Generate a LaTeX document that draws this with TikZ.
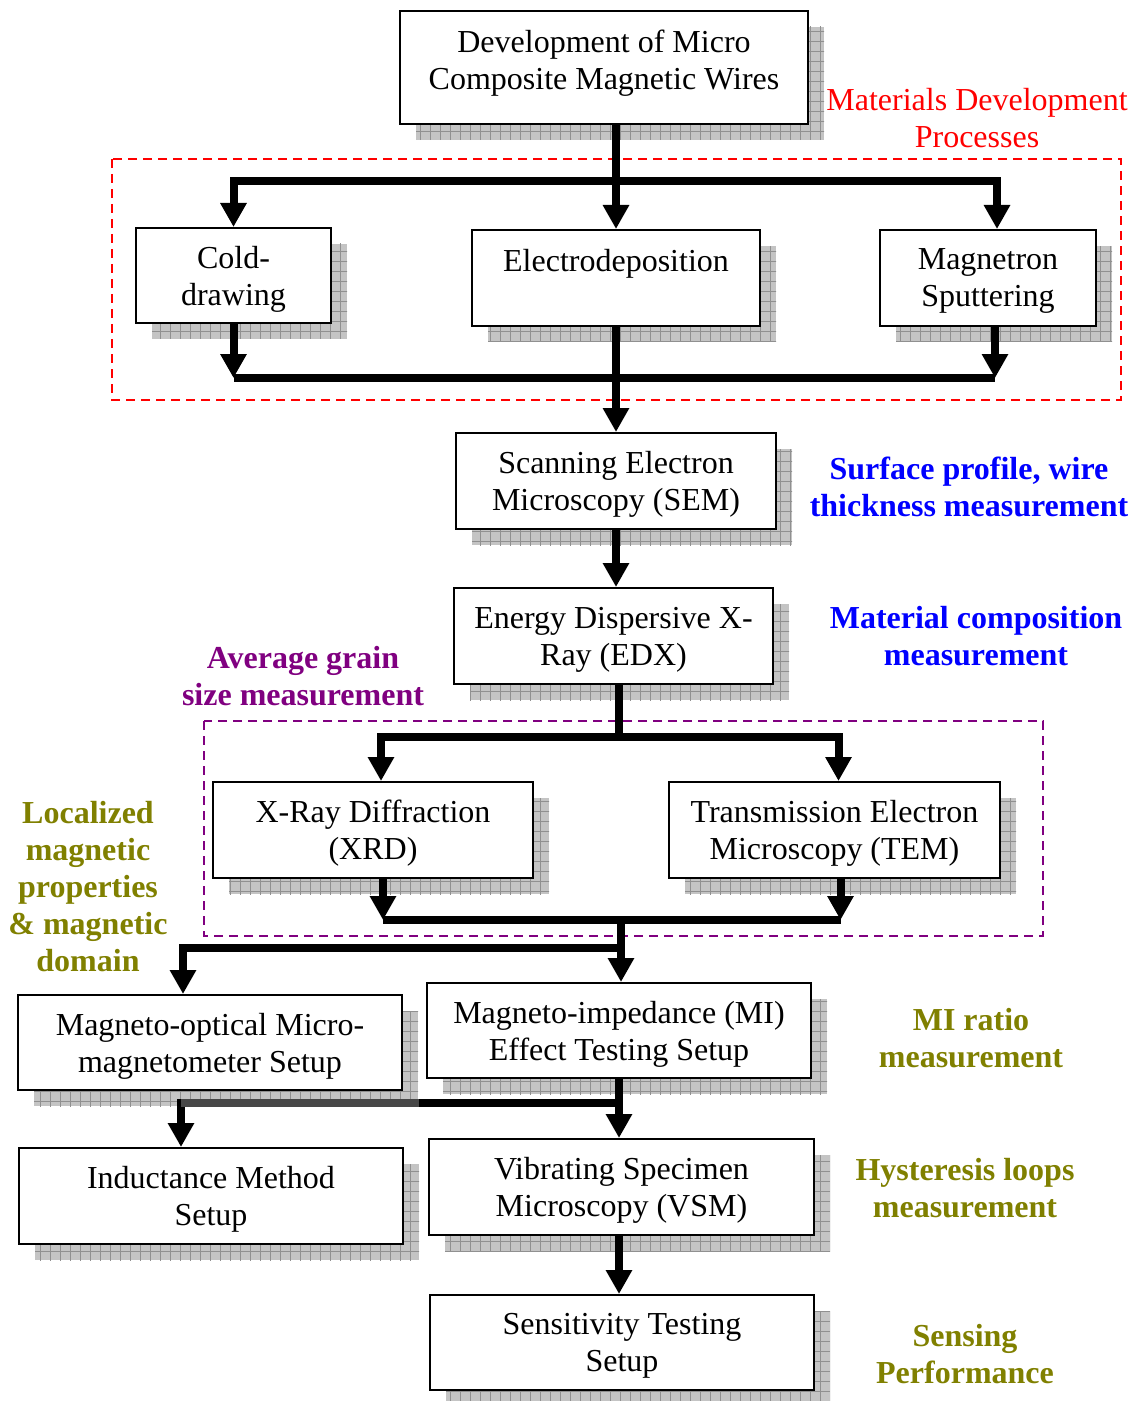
\documentclass[tikz,border=0pt]{standalone}
\usepackage{fontspec}
\setmainfont{Liberation Serif}
\usetikzlibrary{arrows.meta,shadows,patterns.meta,calc}
\definecolor{shgray}{HTML}{C4C4C4}
\definecolor{shline}{HTML}{909090}
\definecolor{lblue}{HTML}{0000FF}
\definecolor{lpurple}{HTML}{800080}
\definecolor{lolive}{HTML}{808000}
\tikzset{
  box/.style={draw, line width=1pt, fill=white, align=center, inner sep=0pt,
    font=\fontsize{16}{18.5}\selectfont, text depth=0pt,
    general shadow={shadow xshift=8pt, shadow yshift=-8pt, fill=shgray},
    general shadow={shadow xshift=8pt, shadow yshift=-8pt, pattern={Hatch[angle=0,distance=5pt,line width=0.35pt]}, pattern color=shline}},
  sz/.style 2 args={minimum width=#1*0.5pt, minimum height=#2*0.5pt},
  conn/.style={line width=4pt},
  arr/.style={line width=4pt, -{Triangle[width=12.5pt,length=12pt]}},
  lab/.style={align=center, inner sep=0pt, font=\fontsize{16}{18.5}\selectfont},
  blab/.style={align=center, inner sep=0pt, font=\fontsize{16}{18.5}\selectfont\bfseries},
  frame/.style={dashed, dash pattern=on 4.5pt off 3pt, line width=0.8pt},
}
\begin{document}
\begin{tikzpicture}[x=0.5pt, y=-0.5pt]
\useasboundingbox (0,0) rectangle (1136,1401);
% boxes
\node[box, sz={408}{113}] (dev) at (604,67.5) {Development of Micro\\Composite Magnetic Wires\\[-10.5pt]~};
\node[box, sz={195}{95}] (cold) at (233.5,275.5) {Cold-\\drawing};
\node[box, sz={288}{96}] (ed) at (616,278) {Electrodeposition\\[-1pt]~};
\node[box, sz={216}{96}] (mag) at (988,278) {Magnetron\\Sputtering};
\node[box, sz={320}{96}] (sem) at (616,481) {Scanning Electron\\Microscopy (SEM)};
\node[box, sz={319}{96}] (edx) at (613.5,636) {Energy Dispersive X-\\Ray (EDX)};
\node[box, sz={320}{96}] (xrd) at (373,830) {X-Ray Diffraction\\(XRD)};
\node[box, sz={331}{96}] (tem) at (834.5,830) {Transmission Electron\\Microscopy (TEM)};
\node[box, sz={384}{95}] (mo) at (210,1042.5) {Magneto-optical Micro-\\magnetometer Setup};
\node[box, sz={384}{95}] (mi) at (619,1030.5) {Magneto-impedance (MI)\\Effect Testing Setup};
\node[box, sz={384}{96}] (ind) at (211,1196) {Inductance Method\\Setup};
\node[box, sz={385}{96}] (vsm) at (621.5,1187) {Vibrating Specimen\\Microscopy (VSM)};
\node[box, sz={384}{95}] (sens) at (622,1342.5) {Sensitivity Testing\\Setup};
% frames
\draw[frame, red] (112,159) rectangle (1121,400);
\draw[frame, lpurple] (204,721) rectangle (1043,936);
% labels
\node[lab, red] (l1) at (977,118) {Materials Development\\Processes};
\node[blab, lblue] (l2) at (969,487) {Surface profile, wire\\thickness measurement};
\node[blab, lblue] (l3) at (976,636) {Material composition\\measurement};
\node[blab, lpurple] (l4) at (303,676) {Average grain\\size measurement};
\node[blab, lolive] (l5) at (88,887) {Localized\\magnetic\\properties\\\& magnetic\\domain};
\node[blab, lolive] (l6) at (971,1038) {MI ratio\\measurement};
\node[blab, lolive] (l7) at (965,1188) {Hysteresis loops\\measurement};
\node[blab, lolive] (l8) at (965,1354) {Sensing\\Performance};
% connectors: stage 1
\coordinate (b1) at (616,181);
\draw[arr] (b1) -| (cold.north);
\draw[arr] (b1) -| ([xshift=4.5pt]mag.north);
\draw[arr] (dev.south -| ed.north) -- (ed.north);
\coordinate (m1) at (616,378);
\draw[conn] (cold.south |- m1) -- ([xshift=3.5pt]mag.south |- m1);
\draw[arr] (cold.south) -- (cold.south |- m1);
\draw[arr] ([xshift=3.5pt]mag.south) -- ([xshift=3.5pt]mag.south |- m1);
\draw[arr] (ed.south) -- (sem.north -| ed.south);
\draw[arr] (sem.south) -- (sem.south |- edx.north);
% stage 2
\coordinate (b2) at (619,737);
\draw[conn] (edx.south -| b2) -- (b2);
\draw[arr] (b2) -| ([xshift=4pt]xrd.north);
\draw[arr] (b2) -| ([xshift=2pt]tem.north);
\coordinate (m2) at (621,920);
\draw[conn] ([xshift=5pt]xrd.south |- m2) -- ([xshift=3pt]tem.south |- m2);
\draw[arr] ([xshift=5pt]xrd.south) -- ([xshift=5pt]xrd.south |- m2);
\draw[arr] ([xshift=3pt]tem.south) -- ([xshift=3pt]tem.south |- m2);
\draw[arr] (m2) -- (m2 |- mi.north);
\coordinate (b3) at (617,948);
\draw[arr] (b3) -| ([xshift=-13.5pt]mo.north);
% stage 3
\coordinate (b4) at (617,1103);
\draw[arr] (mi.south) -- (mi.south |- vsm.north);
\draw[arr] (b4) -| ([xshift=-15pt]ind.north);
\draw[conn, black!72] ([xshift=-15pt]ind.north |- b4) -- ([xshift=8pt]mo.east |- b4);
\draw[arr] (vsm.south -| mi.south) -- (mi.south |- sens.north);
\end{tikzpicture}
\end{document}
